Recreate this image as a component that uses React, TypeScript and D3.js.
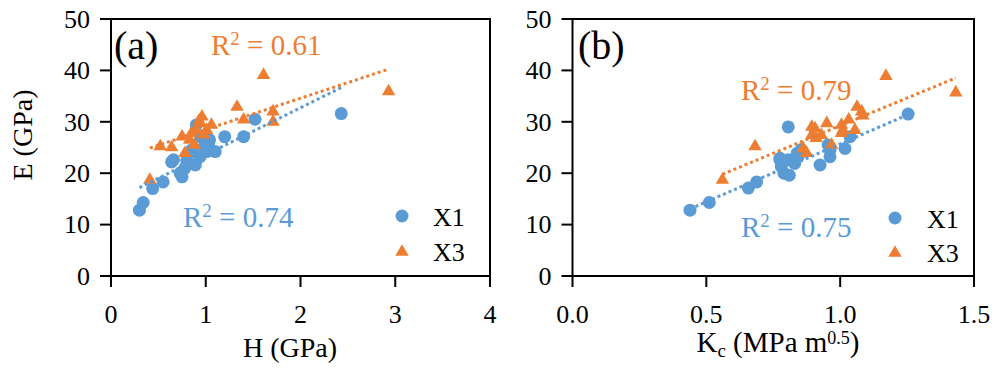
import React from "react";
import * as d3 from "d3";

// ---------- data ----------
const hBlueH = [0.30, 0.34, 0.44, 0.55, 0.64, 0.66, 0.73, 0.75, 0.78, 0.83, 0.89, 0.94, 1.01, 1.03, 1.10, 0.90, 0.98, 1.04, 1.20, 1.40, 1.52, 2.43, 0.80, 0.85, 0.95];
const hBlueE = [12.8, 14.3, 17.0, 18.3, 22.2, 22.6, 20.0, 19.3, 21.0, 23.9, 21.6, 23.2, 24.2, 25.8, 24.2, 29.4, 25.0, 26.5, 27.1, 27.1, 30.5, 31.6, 22.5, 24.5, 27.0];
const hOrangeH = [0.41, 0.52, 0.64, 0.75, 0.78, 0.83, 0.85, 0.96, 0.94, 0.90, 1.06, 1.01, 0.88, 1.33, 1.40, 1.61, 1.71, 1.71, 2.93, 0.98, 0.93];
const hOrangeE = [18.7, 25.2, 25.0, 27.1, 23.9, 26.5, 27.8, 31.0, 29.7, 28.4, 29.4, 28.4, 25.5, 32.9, 30.4, 39.1, 32.0, 30.0, 35.9, 27.5, 30.2];

const kBlueK = [0.439, 0.511, 0.657, 0.688, 0.806, 0.775, 0.79, 0.81, 0.843, 0.855, 0.925, 0.962, 0.962, 1.018, 1.037, 1.254, 0.78, 0.806, 0.775, 0.83, 0.955, 0.84];
const kBlueE = [12.8, 14.3, 17.1, 18.3, 29.0, 22.6, 20.0, 19.6, 23.2, 24.6, 21.6, 23.2, 24.5, 24.8, 27.1, 31.5, 21.3, 22.6, 22.9, 21.9, 25.5, 23.9];
const kOrangeK = [0.56, 0.682, 0.862, 0.875, 0.894, 0.906, 0.894, 0.91, 0.93, 0.95, 0.968, 1.005, 1.01, 1.005, 1.032, 1.055, 1.063, 1.08, 1.085, 1.171, 1.432];
const kOrangeE = [18.7, 25.2, 24.8, 23.9, 27.4, 28.7, 29.0, 26.8, 27.4, 29.7, 25.5, 29.4, 28.4, 27.8, 30.4, 28.4, 32.9, 32.0, 31.2, 38.9, 35.7];

// trendline [slope, intercept]
const trendHBlue = [9.14, 14.45];
const trendHOrange = [6.09, 22.4];
const trendKBlue = [22.5, 3.19];
const trendKOrange = [21.5, 7.75];

const yTicks = [0, 10, 20, 30, 40, 50];
const hTicks = [0, 1, 2, 3, 4];
const kTicks = [0, 0.5, 1.0, 1.5];
const r2Labels = ["0.61", "0.74", "0.79", "0.75"];
const seriesNames = ["X1", "X3"];

const BLUE = "#5B9BD5";
const ORANGE = "#ED7D31";
const FONT = "'Liberation Serif', 'Times New Roman', serif";

const tri = d3.symbol().type(d3.symbolTriangle).size(78)();

type PanelProps = {
  x0: number; x1: number; xDomain: [number, number]; xTicks: number[]; xFmt: (v: number) => string;
  bx: number[]; by: number[]; ox: number[]; oy: number[];
  tb: number[]; to: number[];
};

const Y0 = 276, Y1 = 19;

function Panel(p: PanelProps & { children?: React.ReactNode }) {
  const x = d3.scaleLinear().domain(p.xDomain).range([p.x0, p.x1]);
  const y = d3.scaleLinear().domain([0, 50]).range([Y0, Y1]);
  const trend = (xs: number[], t: number[]) => {
    const [a, b] = d3.extent(xs) as [number, number];
    return d3.line<number>().x((v) => x(v)).y((v) => y(t[0] * v + t[1]))([a, b]) as string;
  };
  return (
    <g>
      {p.bx.map((v, i) => (
        <circle key={"b" + i} cx={x(v)} cy={y(p.by[i])} r={6.5} fill={BLUE} />
      ))}
      {p.ox.map((v, i) => (
        <path key={"o" + i} d={tri} transform={`translate(${x(v)},${y(p.oy[i])})`} fill={ORANGE} />
      ))}
      <path d={trend(p.bx, p.tb)} stroke={BLUE} strokeWidth={3} strokeDasharray="3 3" fill="none" />
      <path d={trend(p.ox, p.to)} stroke={ORANGE} strokeWidth={3} strokeDasharray="3 3" fill="none" />
      {/* frame */}
      <rect x={p.x0} y={Y1} width={p.x1 - p.x0} height={Y0 - Y1} fill="none" stroke="#000" strokeWidth={2} />
      {yTicks.map((t) => (
        <g key={"yt" + t}>
          <line x1={p.x0 - 11} x2={p.x0} y1={y(t)} y2={y(t)} stroke="#000" strokeWidth={2} />
          <text x={p.x0 - 21} y={y(t)} dy="0.34em" textAnchor="end" fontSize={26} fontFamily={FONT} fill="#000">{t}</text>
        </g>
      ))}
      {p.xTicks.map((t) => (
        <g key={"xt" + t}>
          <line x1={x(t)} x2={x(t)} y1={Y0} y2={Y0 + 11} stroke="#000" strokeWidth={2} />
          <text x={x(t)} y={323} textAnchor="middle" fontSize={26} fontFamily={FONT} fill="#000">{p.xFmt(t)}</text>
        </g>
      ))}
      {p.children}
    </g>
  );
}

function R2({ x, y, color, value }: { x: number; y: number; color: string; value: string }) {
  return (
    <text x={x} y={y} fontSize={29} fontFamily={FONT} fill={color}>
      R<tspan fontSize={19} dy={-10}>2</tspan>
      <tspan dy={10}>{" = " + value}</tspan>
    </text>
  );
}

function Legend({ x, tx, y1, y2 }: { x: number; tx: number; y1: number; y2: number }) {
  return (
    <g>
      <circle cx={x} cy={y1} r={6.5} fill={BLUE} />
      <path d={tri} transform={`translate(${x},${y2})`} fill={ORANGE} />
      <text x={tx} y={y1 + 10} fontSize={26} fontFamily={FONT} fill="#000">{seriesNames[0]}</text>
      <text x={tx} y={y2 + 9} fontSize={26} fontFamily={FONT} fill="#000">{seriesNames[1]}</text>
    </g>
  );
}

export default function App() {
  return (
    <svg width={1001} height={374} style={{ position: "absolute", left: 0, top: 0, background: "#fff" }}>
      <rect width={1001} height={374} fill="#fff" />
      <Panel x0={111} x1={490} xDomain={[0, 4]} xTicks={hTicks} xFmt={(v) => String(v)}
        bx={hBlueH} by={hBlueE} ox={hOrangeH} oy={hOrangeE} tb={trendHBlue} to={trendHOrange}>
        <text x={114} y={59} fontSize={40} fontFamily={FONT} fill="#000">(a)</text>
        <R2 x={211} y={55} color={ORANGE} value={r2Labels[0]} />
        <R2 x={183} y={227} color={BLUE} value={r2Labels[1]} />
        <Legend x={402} tx={433} y1={216} y2={252} />
      </Panel>
      <Panel x0={572.5} x1={974} xDomain={[0, 1.5]} xTicks={kTicks} xFmt={(v) => v.toFixed(1)}
        bx={kBlueK} by={kBlueE} ox={kOrangeK} oy={kOrangeE} tb={trendKBlue} to={trendKOrange}>
        <text x={578} y={59} fontSize={40} fontFamily={FONT} fill="#000">(b)</text>
        <R2 x={741} y={100} color={ORANGE} value={r2Labels[2]} />
        <R2 x={741} y={237} color={BLUE} value={r2Labels[3]} />
        <Legend x={895} tx={927} y1={218} y2={253} />
      </Panel>
      <text x={290} y={357} textAnchor="middle" fontSize={28} fontFamily={FONT} fill="#000">H (GPa)</text>
      <text x={778} y={352} textAnchor="middle" fontSize={29} fontFamily={FONT} fill="#000">
        K<tspan fontSize={19} dy={5}>c</tspan>
        <tspan dy={-5}>{" (MPa m"}</tspan>
        <tspan fontSize={18} dy={-8}>0.5</tspan>
        <tspan dy={8}>)</tspan>
      </text>
      <text transform="translate(32,135) rotate(-90)" textAnchor="middle" fontSize={28} fontFamily={FONT} fill="#000">E (GPa)</text>
    </svg>
  );
}
